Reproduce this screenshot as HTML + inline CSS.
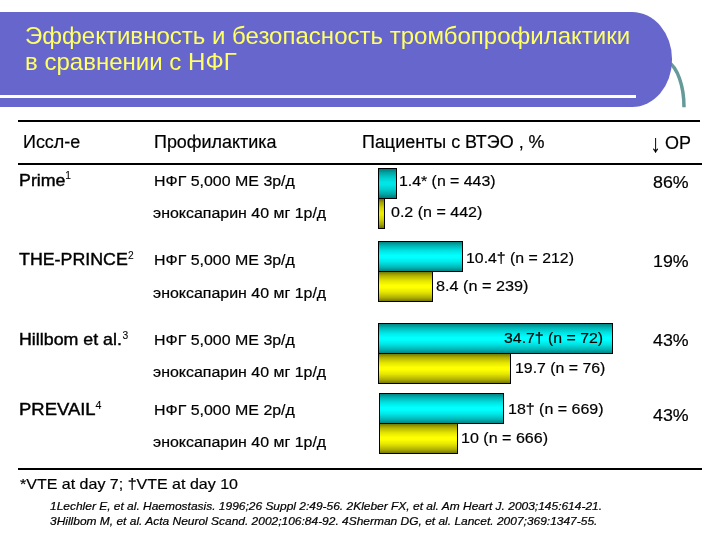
<!DOCTYPE html>
<html lang="ru"><head><meta charset="utf-8"><title>Эффективность и безопасность тромбопрофилактики</title>
<style>
html,body{margin:0;padding:0;background:#fff;}
body{-webkit-text-stroke:0.2px #000;width:720px;height:540px;position:relative;overflow:hidden;font-family:"Liberation Sans",sans-serif;color:#000;}
.abs{position:absolute;white-space:nowrap;line-height:1;transform-origin:0 0;}
#banner{position:absolute;left:0;top:12px;width:672px;height:94.6px;background:#6666cc;border-radius:0 40px 40px 0 / 0 47px 47px 0;}
#wline{position:absolute;left:0;top:94.7px;width:636.3px;height:3.4px;background:#fff;}
.title{color:#ffff66;font-size:24px;left:25.3px;transform:scaleX(1.001);-webkit-text-stroke:0 #ffff66;}
.hl{position:absolute;left:18px;width:683.7px;height:2px;background:#000;}
.h{font-size:17.5px;transform:scaleX(1.025);}
.s{font-size:16.2px;transform:scaleX(1.10);left:18.6px;-webkit-text-stroke:0.4px #000;}
.t{font-size:15.4px;left:153.6px;transform:scaleX(1.036);}
.e{left:153.2px;}
.v{font-size:15.4px;transform:scaleX(1.03);}
.r{font-size:17.3px;left:652.5px;transform:scaleX(1.03);}
.ar{display:inline-block;transform:scale(1.1,1.42);transform-origin:50% 37%;}
.n{font-size:15px;transform:scaleX(1.067);}
.bar{position:absolute;box-sizing:border-box;border:1px solid #000;left:378px;height:31px;}
.c{background:linear-gradient(#008484,#00b4b4 12%,#00e4e4 30%,#00ffff 46%,#00ffff 54%,#00e4e4 70%,#00b4b4 88%,#008484);}
.y{background:linear-gradient(#787800,#b0b000 12%,#e4e400 30%,#ffff00 46%,#ffff00 54%,#e4e400 70%,#b0b000 88%,#787800);}
sup{-webkit-text-stroke:0.1px #000;font-size:72%;vertical-align:baseline;position:relative;top:-0.55em;display:inline-block;line-height:1;transform:scaleX(0.8);transform-origin:0 100%;}
.foot{font-size:10.5px;font-style:italic;left:50.4px;transform:scaleX(1.139);}
</style></head><body>
<svg class="abs" style="left:0;top:0" width="720" height="120"><path d="M667.9 61.8 A21.5 47 0 0 1 684 107.3" fill="none" stroke="#669999" stroke-width="3.5"/></svg>
<div id="banner"></div><div id="wline"></div>
<div class="abs title" style="top:24px">Эффективность и безопасность тромбопрофилактики</div>
<div class="abs title" style="top:50px">в сравнении с НФГ</div>
<div class="hl" style="top:120px;width:682px"></div>
<div class="hl" style="top:163px"></div>
<div class="hl" style="top:467.8px;height:2.2px"></div>
<div class="abs h" style="left:22.6px;top:134.3px">Иссл-е</div>
<div class="abs h" style="left:153.5px;top:134.3px">Профилактика</div>
<div class="abs h" style="left:361.5px;top:134.3px">Пациенты с ВТЭО , %</div>
<div class="abs h" style="left:651.3px;top:134.7px"><span class="ar">↓</span> ОР</div>

<div class="abs s" style="top:171.5px">Prime<sup>1</sup></div>
<div class="abs s" style="top:251.3px">THE-PRINCE<sup>2</sup></div>
<div class="abs s" style="top:331.3px">Hillbom et al.<sup>3</sup></div>
<div class="abs s" style="top:401px;transform:scaleX(1.14)">PREVAIL<sup>4</sup></div>

<div class="abs t" style="top:173px">НФГ 5,000 МЕ 3р/д</div>
<div class="abs t e" style="top:205px">эноксапарин 40 мг 1р/д</div>
<div class="abs t" style="top:251.6px">НФГ 5,000 МЕ 3р/д</div>
<div class="abs t e" style="top:284.6px">эноксапарин 40 мг 1р/д</div>
<div class="abs t" style="top:332px">НФГ 5,000 МЕ 3р/д</div>
<div class="abs t e" style="top:363.7px">эноксапарин 40 мг 1р/д</div>
<div class="abs t" style="top:402.3px">НФГ 5,000 МЕ 2р/д</div>
<div class="abs t e" style="top:433.7px">эноксапарин 40 мг 1р/д</div>

<div class="bar c" style="top:168px;width:19px;filter:brightness(.9)"></div>
<div class="bar y" style="top:198px;width:7px;filter:brightness(.92)"></div>
<div class="bar c" style="top:241px;width:85.2px"></div>
<div class="bar y" style="top:271px;width:55px"></div>
<div class="bar c" style="top:323px;width:235px"></div>
<div class="bar y" style="top:353px;width:133px"></div>
<div class="bar c" style="top:393px;left:379px;width:124.7px"></div>
<div class="bar y" style="top:423px;left:379px;width:79px"></div>

<div class="abs v" style="left:399.3px;top:173.1px">1.4* (n = 443)</div>
<div class="abs v" style="left:390.9px;top:204.3px;transform:scaleX(1.042)">0.2 (n = 442)</div>
<div class="abs v" style="left:466.1px;top:250.3px">10.4† (n = 212)</div>
<div class="abs v" style="left:435.7px;top:278.3px;transform:scaleX(1.054)">8.4 (n = 239)</div>
<div class="abs v" style="left:503.5px;top:329.7px">34.7† (n = 72)</div>
<div class="abs v" style="left:514.6px;top:359.7px">19.7 (n = 76)</div>
<div class="abs v" style="left:507.9px;top:401px;transform:scaleX(1.038)">18† (n = 669)</div>
<div class="abs v" style="left:461px;top:430.3px;transform:scaleX(1.043)">10 (n = 666)</div>

<div class="abs r" style="top:174px">86%</div>
<div class="abs r" style="top:253.4px">19%</div>
<div class="abs r" style="top:331.7px">43%</div>
<div class="abs r" style="top:407px">43%</div>

<div class="abs n" style="left:20px;top:476px">*VTE at day 7; †VTE at day 10</div>
<div class="abs foot" style="top:500.8px">1Lechler E, et al. Haemostasis. 1996;26 Suppl 2:49-56. 2Kleber FX, et al. Am Heart J. 2003;145:614-21.</div>
<div class="abs foot" style="top:515.6px">3Hillbom M, et al. Acta Neurol Scand. 2002;106:84-92. 4Sherman DG, et al. Lancet. 2007;369:1347-55.</div>
</body></html>
